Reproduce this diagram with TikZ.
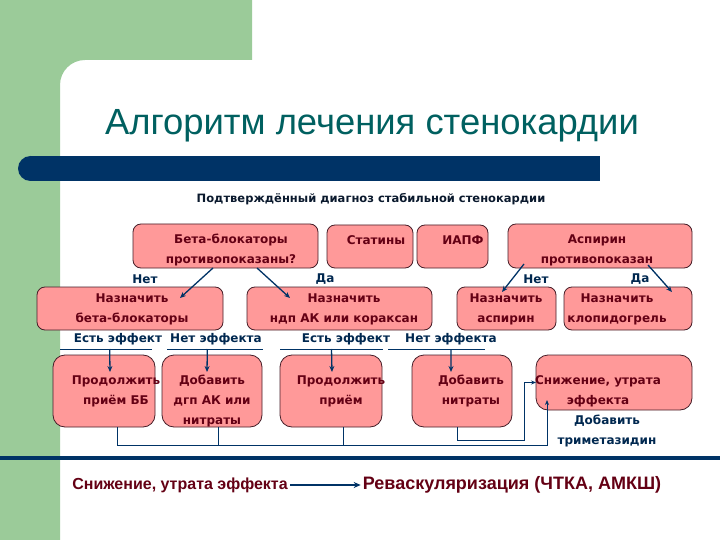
\documentclass[tikz,border=0pt]{standalone}
\usepackage{fontspec}
\setmainfont{DejaVu Sans}
\newfontfamily\arf{Liberation Sans}
\usetikzlibrary{arrows.meta,calc}
\definecolor{greenbg}{RGB}{155,203,153}
\definecolor{titlec}{RGB}{0,96,96}
\definecolor{navy}{RGB}{0,51,102}
\definecolor{boxfill}{RGB}{255,153,153}
\definecolor{boxline}{RGB}{70,30,40}
\definecolor{boxtext}{RGB}{100,0,20}
\definecolor{lblc}{RGB}{0,40,80}
\definecolor{subc}{RGB}{10,25,45}
\begin{document}
\begin{tikzpicture}[x=1pt,y=-1pt,
  box/.style={draw=boxline, fill=boxfill, rounded corners=8pt, line width=0.8pt, anchor=north west, inner sep=0pt, outer sep=0pt},
  rbox/.style={box, rounded corners=12pt},
  btxt/.style={text=boxtext, font={\fontsize{12}{20}\selectfont\bfseries}, align=center, inner sep=0pt},
  lbl/.style={text=lblc, font={\fontsize{12}{20}\selectfont\bfseries}, align=center, inner sep=0pt},
  arr/.style={draw=navy, line width=1.3pt, -{Stealth[length=6pt,width=5pt]}},
  conn/.style={draw=navy, line width=0.8pt},
  carr/.style={conn, -{Stealth[length=5pt,width=4pt]}}
]
\useasboundingbox (0,0) rectangle (720,540);
% background
\fill[white] (0,0) rectangle (720,540);
\fill[greenbg] (0,0) -- (252,0) -- (252,60) -- (85,60) arc[start angle=270, end angle=180, radius=25] -- (60,540) -- (0,540) -- cycle;
% title
\node[anchor=base, text=titlec, font={\arf\fontsize{36.4}{40}\selectfont}, inner sep=0pt] (title) at (372,135) {Алгоритм лечения стенокардии};
% bar
\fill[navy] (30.5,156) rectangle (600,181);
\fill[navy] (30.5,168.5) circle[radius=12.5];
% subtitle
\node[text=subc, font={\fontsize{11.5}{14}\selectfont\bfseries}, inner sep=0pt] (sub) at (371,199) {Подтверждённый диагноз стабильной стенокардии};
% row 1 boxes
\node[box, minimum width=185pt, minimum height=44pt] (b1) at (133,224) {};
\node[box, minimum width=86pt, minimum height=43pt] (stat) at (327,225) {};
\node[box, minimum width=71pt, minimum height=43pt] (iapf) at (417,225) {};
\node[box, minimum width=184pt, minimum height=44pt] (asp) at (508,224) {};
\node[btxt] (b1t) at (231,250) {Бета-блокаторы\\противопоказаны?};
\node[btxt] (statt) at (376,240) {Статины};
\node[btxt] (iapft) at (463,240) {ИАПФ};
\node[btxt] (aspt) at (597,250) {Аспирин\\противопоказан};
% row 2 boxes
\node[box, minimum width=186pt, minimum height=43pt] (n1) at (37,287) {};
\node[box, minimum width=185pt, minimum height=43pt] (n2) at (247,287) {};
\node[box, minimum width=99pt, minimum height=43pt] (n3) at (457,287) {};
\node[box, minimum width=128pt, minimum height=43pt] (n4) at (564,287) {};
\node[btxt] (n1t) at (132,309.5) {Назначить\\бета-блокаторы};
\node[btxt] (n2t) at (344,309.5) {Назначить\\ндп АК или кораксан};
\node[btxt] (n3t) at (506,309.5) {Назначить\\аспирин};
\node[btxt] (n4t) at (617,309.5) {Назначить\\клопидогрель};
% yes/no labels
\node[lbl] (no1) at (145,279) {Нет};
\node[lbl] (yes1) at (325,279) {Да};
\node[lbl] (no2) at (536,279) {Нет};
\node[lbl] (yes2) at (640,279) {Да};
% diagonal arrows
\draw[arr] ($(b1.south west)+(80,0)$) -- ($(n1.north west)+(143,11)$);
\draw[arr] ($(b1.south west)+(124,0)$) -- ($(n2.north west)+(43,11)$);
\draw[arr] ($(asp.south west)+(16,-4)$) -- ($(n3.north west)+(45,5)$);
\draw[arr] ($(asp.south west)+(140,-3)$) -- ($(n4.north west)+(108,5)$);
% effect labels
\node[lbl] (e1) at (118,339) {Есть эффект};
\node[lbl] (e2) at (216,339) {Нет эффекта};
\node[lbl] (e3) at (346,339) {Есть эффект};
\node[lbl] (e4) at (451,339) {Нет эффекта};
\coordinate (u1a) at (60,349); \coordinate (u1b) at (152,349);
\coordinate (u2a) at (167,349); \coordinate (u2b) at (263,349);
\coordinate (u3a) at (280,349); \coordinate (u3b) at (383,349);
\coordinate (u4a) at (388,349); \coordinate (u4b) at (485,349);
\draw[conn] (u1a) -- (u1b);
\draw[conn] (u2a) -- (u2b);
\draw[conn] (u3a) -- (u3b);
\draw[conn] (u4a) -- (u4b);
% row 3 boxes
\node[rbox, minimum width=102pt, minimum height=72pt] (r1) at (53,355) {};
\node[rbox, minimum width=100pt, minimum height=72pt] (r2) at (162,355) {};
\node[rbox, minimum width=102pt, minimum height=72pt] (r3) at (280,355) {};
\node[rbox, minimum width=100pt, minimum height=72pt] (r4) at (412,355) {};
\node[rbox, minimum width=156pt, minimum height=55pt] (r5) at (536,355) {};
\node[btxt] (r1t) at (116,391) {Продолжить\\приём ББ};
\node[btxt] (r2t) at (212,401) {Добавить\\дгп АК или\\нитраты};
\node[btxt] (r3t) at (341,391) {Продолжить\\приём};
\node[btxt] (r4t) at (471,391) {Добавить\\нитраты};
\node[btxt] (r5t) at (598,391) {Снижение, утрата\\эффекта};
\node[lbl] (tmz) at (607,431) {Добавить\\триметазидин};
% down arrows
\draw[arr] ($(u1a)!0.54!(u1b)$) -- ($(r1.north west)+(57,17)$);
\draw[arr] ($(u2a)!0.42!(u2b)$) -- ($(r2.north west)+(45,17)$);
\draw[arr] ($(u3a)!0.5!(u3b)$) -- ($(r3.north west)+(52,17)$);
\draw[arr] ($(u4a)!0.65!(u4b)$) -- ($(r4.north west)+(39,17)$);
% bottom connectors
\draw[carr] ($(r1.south west)+(64,0)$) |- ($(r5.south west)+(11,35)$) -- ($(r5.south west)+(11,-10)$);
\draw[conn] ($(r2.south west)+(56,0)$) -- ++(0,18);
\draw[conn] ($(r3.south west)+(63,0)$) -- ++(0,18);
\draw[carr] ($(r4.south west)+(45,0)$) -- ++(0,13) -| ($(r5.west)+(-12,0)$) -- (r5.west);
% bottom line
\fill[navy] (0,456) rectangle (720,459.5);
% bottom texts
\node[text=boxtext, font={\arf\fontsize{16}{18}\selectfont\bfseries}, inner sep=2pt] (sn) at (180,485) {Снижение, утрата эффекта};
\node[text=boxtext, font={\arf\fontsize{18}{20}\selectfont\bfseries}, inner sep=2pt] (rv) at (512,485) {Реваскуляризация (ЧТКА, АМКШ)};
\draw[draw=navy, line width=2.2pt, -{Stealth[length=7pt,width=6pt]}] (sn.east) -- (rv.west);
\end{tikzpicture}
\end{document}
